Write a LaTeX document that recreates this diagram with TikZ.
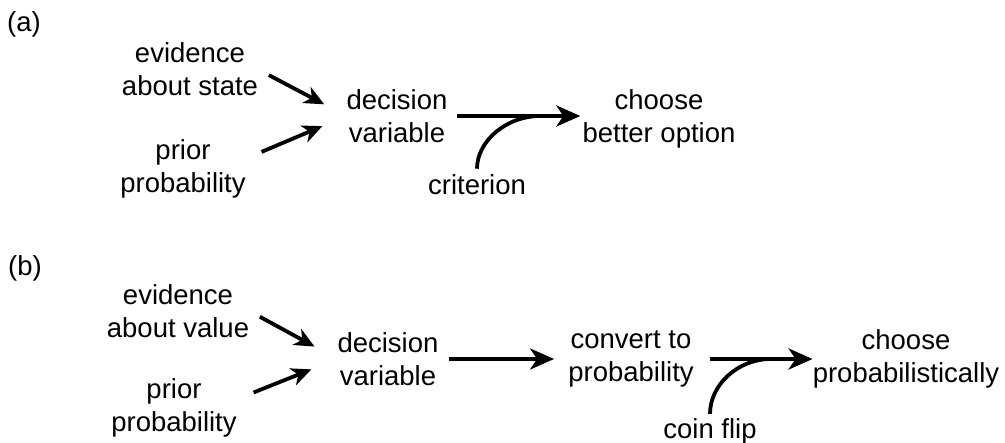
\documentclass[tikz,border=0pt]{standalone}
\usepackage{fontspec}
\setmainfont{Liberation Sans}
\usetikzlibrary{arrows.meta,positioning}
\tikzset{
	txt/.style={align=center,inner sep=0pt,font=\fontsize{27.5}{33}\selectfont},
	flow/.style={line width=3.8pt,-{Stealth[length=24pt,width=21pt,inset=7pt]}},
	slant/.style={line width=3.8pt,-{Stealth[length=20pt,width=18pt,inset=6pt]}},
	feed/.style={line width=3.8pt}
}

\begin{document}
\begin{tikzpicture}[x=1pt,y=-1pt]
	\useasboundingbox (0,0) rectangle (1005,443);
	% (a)
	\node[txt,anchor=west] (tagA) at (7,24) {(a)};
	\node[txt] (evidA) at (190,69.5) {evidence\\about state};
	\node[txt] (priorA) at (183,168.5) {prior\\probability};
	\node[txt] (decA) at (397,116) {decision\\variable};
	\node[txt] (chooseA) at (659,119) {choose\\better option};
	\node[txt] (critA) at (477,185) {criterion};
	\coordinate (joinA) at (540,116);
	\draw[slant,shorten <=12pt,shorten >=25pt] (evidA.east) -- (decA.west);
	\draw[slant,shorten <=17pt,shorten >=26pt] (priorA.9) -- (decA.west);
	\draw[flow,shorten <=9pt,shorten >=2pt] (decA.east) -- (decA.east -| chooseA.west);
	\draw[feed,shorten <=6pt] (critA.north) to[out=90,in=180] (joinA);
	% (b)
	\node[txt,anchor=west] (tagB) at (8,268) {(b)};
	\node[txt] (evidB) at (178,311) {evidence\\about value};
	\node[txt] (priorB) at (174,408) {prior\\probability};
	\node[txt] (decB) at (388,359) {decision\\variable};
	\node[txt] (convB) at (631,359) {convert to\\probability};
	\node[txt] (chooseB) at (906,359) {choose\\probabilistically};
	\node[txt] (coinB) at (710,431) {coin flip};
	\coordinate (joinB) at (771,359);
	\draw[slant,shorten <=12pt,shorten >=26pt] (evidB.east) -- (decB.west);
	\draw[slant,shorten <=18pt,shorten >=28pt] (priorB.8) -- (decB.west);
	\draw[flow,shorten <=10pt,shorten >=14pt] (decB) -- (convB);
	\draw[flow,shorten <=16pt] (convB) -- (chooseB);
	\draw[feed,shorten <=4pt] (coinB.north) to[out=90,in=180] (joinB);
\end{tikzpicture}
\end{document}
